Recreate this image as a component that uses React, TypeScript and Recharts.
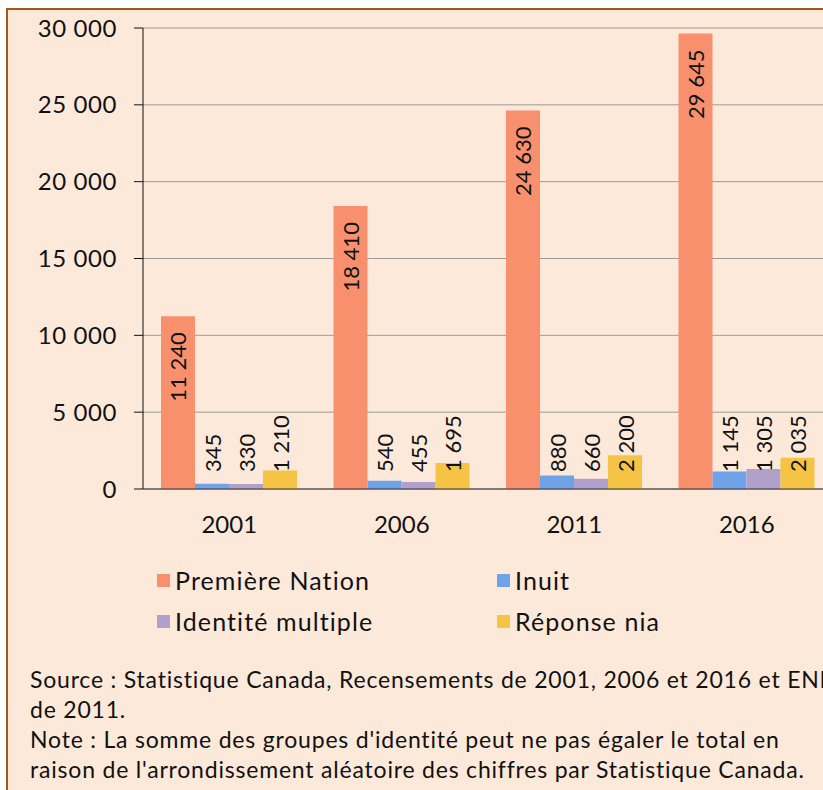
import React from 'react';
import { Bar, BarChart, CartesianGrid, LabelList, XAxis, YAxis } from 'recharts';

const years = ['2001', '2006', '2011', '2016'];
const premiereNation = [11240, 18410, 24630, 29645];
const inuit = [345, 540, 880, 1145];
const identiteMultiple = [330, 455, 660, 1305];
const reponseNia = [1210, 1695, 2200, 2035];
const yTicks = [0, 5000, 10000, 15000, 20000, 25000, 30000];

const seriesNames = ['Première Nation', 'Inuit', 'Identité multiple', 'Réponse nia'];
const seriesColors = ['#F8906E', '#70A2E8', '#B1A1CA', '#F6C445'];

const FONT = "Lato, 'Open Sans', sans-serif";
const fmt = (v: number) => String(v).replace(/\B(?=(\d{3})+(?!\d))/g, ' ');

const data = years.map((year, i) => ({
  year,
  pn: premiereNation[i],
  inuit: inuit[i],
  multi: identiteMultiple[i],
  nia: reponseNia[i],
}));

// value inside the top of the tall bars
const TopLabel = (props: any) => {
  const { x, y, width, value } = props;
  const cx = x + width / 2;
  const ty = y + 16;
  return (
    <text
      x={cx}
      y={ty}
      transform={`rotate(-90 ${cx} ${ty})`}
      textAnchor="end"
      dominantBaseline="central"
      fontSize={22}
      fontFamily={FONT}
      fill="#111"
    >
      {fmt(value)}
    </text>
  );
};

// small series: label starts at a fixed height above the baseline
const BaseLabel = (props: any) => {
  const { x, y, width, height, value } = props;
  const cx = x + width / 2;
  const ty = y + height - 17;
  return (
    <text
      x={cx}
      y={ty}
      transform={`rotate(-90 ${cx} ${ty})`}
      textAnchor="start"
      dominantBaseline="central"
      fontSize={22}
      fontFamily={FONT}
      fill="#111"
    >
      {fmt(value)}
    </text>
  );
};

const legendPos = [
  { left: 157, top: 580 },
  { left: 497, top: 580 },
  { left: 157, top: 621 },
  { left: 497, top: 621 },
];

const notes = [
  'Source : Statistique Canada, Recensements de 2001, 2006 et 2016 et ENM',
  'de 2011.',
  "Note : La somme des groupes d'identité peut ne pas égaler le total en",
  "raison de l'arrondissement aléatoire des chiffres par Statistique Canada.",
];

export default function App() {
  return (
    <div
      style={{
        position: 'fixed',
        left: 0,
        top: 0,
        width: 823,
        height: 790,
        overflow: 'hidden',
        background: '#fff',
        fontFamily: FONT,
      }}
    >
      <div
        style={{
          position: 'absolute',
          left: 0,
          top: -25,
          width: 823,
          textAlign: 'center',
          fontWeight: 700,
          fontSize: 22,
          lineHeight: '26px',
          color: '#111',
          whiteSpace: 'nowrap',
        }}
      >
        Population selon le groupe d'identité, 2001 à 2016
      </div>
      <div
        style={{
          position: 'absolute',
          left: 6,
          top: 8,
          width: 900,
          height: 900,
          borderLeft: '2px solid #A5561F',
          borderTop: '2px solid #A5561F',
          background: '#FDE9DA',
        }}
      />
      <div style={{ position: 'absolute', left: 0, top: 0 }}>
        <BarChart
          width={840}
          height={560}
          data={data}
          margin={{ top: 28, right: 7, left: 0, bottom: 21 }}
          barCategoryGap={18}
          barGap={0}
        >
          <CartesianGrid vertical={false} stroke="#9c9a98" strokeWidth={1} />
          <YAxis
            width={143}
            domain={[0, 30000]}
            ticks={yTicks}
            interval={0}
            tickFormatter={fmt}
            axisLine={{ stroke: '#111' }}
            tickLine={{ stroke: '#111' }}
            tickSize={9}
            tickMargin={17}
            tick={{ fontSize: 24, fontFamily: FONT, fill: '#111', style: { letterSpacing: 0.6 } }}
          />
          <XAxis
            dataKey="year"
            height={50}
            axisLine={{ stroke: '#333' }}
            tickLine={false}
            tickSize={0}
            tickMargin={27}
            tick={{ fontSize: 24, fontFamily: FONT, fill: '#111' }}
          />
          <Bar dataKey="pn" fill={seriesColors[0]} isAnimationActive={false}>
            <LabelList dataKey="pn" content={TopLabel} />
          </Bar>
          <Bar dataKey="inuit" fill={seriesColors[1]} isAnimationActive={false}>
            <LabelList dataKey="inuit" content={BaseLabel} />
          </Bar>
          <Bar dataKey="multi" fill={seriesColors[2]} isAnimationActive={false}>
            <LabelList dataKey="multi" content={BaseLabel} />
          </Bar>
          <Bar dataKey="nia" fill={seriesColors[3]} isAnimationActive={false}>
            <LabelList dataKey="nia" content={BaseLabel} />
          </Bar>
        </BarChart>
      </div>
      {seriesNames.map((name, i) => (
        <div
          key={name}
          style={{
            position: 'absolute',
            left: legendPos[i].left,
            top: legendPos[i].top - 15,
            height: 30,
            display: 'flex',
            alignItems: 'center',
            fontSize: 25,
            letterSpacing: 1.1,
            color: '#111',
            whiteSpace: 'nowrap',
          }}
        >
          <span
            style={{
              display: 'inline-block',
              width: 13,
              height: 13,
              background: seriesColors[i],
              marginRight: 5,
            }}
          />
          {name}
        </div>
      ))}
      {notes.map((line, i) => (
        <div
          key={i}
          style={{
            position: 'absolute',
            left: 30,
            top: 664 + i * 30,
            height: 30,
            lineHeight: '30px',
            fontSize: 23,
            letterSpacing: 0.8,
            color: '#111',
            whiteSpace: 'nowrap',
          }}
        >
          {line}
        </div>
      ))}
    </div>
  );
}
